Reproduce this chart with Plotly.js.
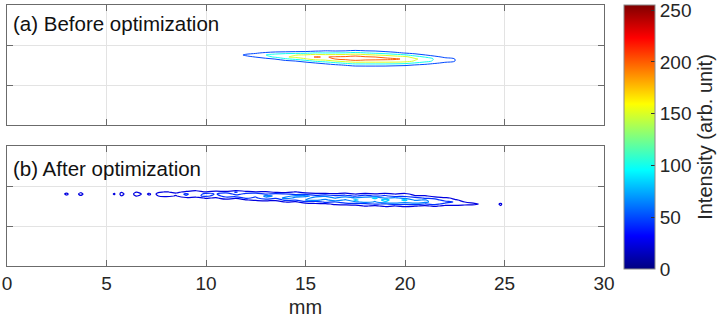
<!DOCTYPE html>
<html>
<head>
<meta charset="utf-8">
<script src="https://cdn.plot.ly/plotly-3.0.1.min.js"></script>
<style>
  html, body { margin: 0; padding: 0; background: #ffffff; }
  #chart { width: 720px; height: 320px; }
</style>
</head>
<body>
<div id="chart"></div>
<script>
// Longitudinal positions (mm) of the sampled columns, transverse rows, and intensity per column.
// Panel (a): beam before optimization
const beforeX = [11.0, 11.5, 12.0, 12.5, 13.0, 13.5, 14.0, 14.5, 15.0, 15.5, 16.0, 16.5, 17.0,
                 17.5, 18.0, 18.5, 19.0, 19.5, 20.0, 20.5, 21.0, 21.5, 22.0, 22.5, 23.0];
const beforeY = [1.45, 1.50, 1.55, 1.60, 1.65, 1.70, 1.75, 1.80, 1.85, 1.90, 1.95];
const beforeZ = [
  [0, 0, 0, 0, 0, 0, 0, 0, 0, 0, 0],
  [0, 0, 0, 0, 0, 10, 30, 12, 0, 0, 0],
  [0, 0, 0, 1, 8, 35, 58, 35, 8, 1, 0],
  [0, 0, 0, 2, 16, 52, 72, 44, 12, 1, 0],
  [0, 0, 0, 7, 32, 80, 99, 61, 19, 3, 0],
  [0, 0, 2, 14, 53, 108, 122, 76, 26, 5, 0],
  [0, 1, 8, 35, 91, 144, 137, 84, 27, 6, 0],
  [0, 3, 15, 51, 113, 162, 148, 87, 33, 8, 1],
  [1, 7, 28, 77, 144, 182, 155, 90, 35, 9, 2],
  [4, 16, 50, 110, 175, 203, 170, 104, 46, 14, 3],
  [8, 27, 67, 126, 181, 197, 162, 101, 53, 17, 5],
  [15, 42, 90, 152, 201, 206, 164, 102, 50, 19, 5],
  [20, 55, 110, 172, 214, 209, 165, 104, 52, 21, 6],
  [31, 70, 127, 188, 226, 222, 177, 115, 60, 26, 9],
  [32, 71, 126, 183, 216, 207, 162, 103, 53, 22, 8],
  [32, 71, 127, 183, 213, 200, 151, 92, 50, 18, 6],
  [31, 71, 127, 183, 210, 192, 139, 81, 37, 14, 4],
  [27, 66, 125, 183, 206, 178, 121, 64, 27, 9, 2],
  [24, 61, 118, 174, 194, 165, 106, 47, 19, 5, 1],
  [17, 48, 97, 145, 159, 128, 76, 33, 11, 2, 0],
  [12, 37, 79, 119, 128, 97, 52, 20, 5, 1, 0],
  [7, 24, 58, 91, 95, 65, 30, 9, 2, 0, 0],
  [3, 15, 41, 68, 68, 41, 15, 3, 0, 0, 0],
  [0, 4, 22, 52, 50, 24, 5, 1, 0, 0, 0],
  [0, 0, 0, 0, 0, 0, 0, 0, 0, 0, 0]
];
const beforeLevels = { start: 50, end: 250, size: 50 };

// Panel (b): beam after optimization
const afterX = [2.5, 3.0, 3.35, 3.7, 4.1, 5.0, 5.4, 5.55, 5.75, 5.95, 6.15, 6.5, 6.9, 7.15, 7.35, 7.6,
                8.0, 8.5, 9.0, 9.5, 10.0, 10.5, 11.0, 11.5, 12.0, 12.5, 13.0, 13.5, 14.0, 14.5,
                15.0, 15.5, 16.0, 16.5, 17.0, 17.5, 18.0, 18.5, 19.0, 19.5, 20.0, 20.5, 21.0,
                21.5, 22.0, 22.5, 23.0, 23.5, 24.0, 24.5, 24.8, 25.1];
const afterY = [1.40, 1.45, 1.50, 1.55, 1.60, 1.65, 1.70, 1.75, 1.80, 1.85, 1.90, 1.95];
const afterZ = [
  [0, 0, 0, 0, 0, 0, 0, 0, 0, 0, 0, 0],
  [0, 0, 0, 0, 0, 0, 0, 18, 30, 16, 0, 0],
  [0, 0, 0, 0, 0, 0, 0, 0, 0, 0, 0, 0],
  [0, 0, 0, 0, 0, 0, 0, 20, 34, 18, 0, 0],
  [0, 0, 0, 0, 0, 0, 0, 0, 0, 0, 0, 0],
  [0, 0, 0, 0, 0, 0, 0, 0, 0, 0, 0, 0],
  [0, 0, 0, 0, 0, 0, 0, 16, 28, 14, 0, 0],
  [0, 0, 0, 0, 0, 0, 0, 0, 0, 0, 0, 0],
  [0, 0, 0, 0, 0, 0, 0, 22, 38, 20, 0, 0],
  [0, 0, 0, 0, 0, 0, 0, 10, 16, 8, 0, 0],
  [0, 0, 0, 0, 0, 0, 0, 0, 0, 0, 0, 0],
  [0, 0, 0, 0, 0, 0, 4, 26, 40, 22, 2, 0],
  [0, 0, 0, 0, 0, 0, 2, 10, 14, 8, 1, 0],
  [0, 0, 0, 0, 0, 0, 3, 18, 30, 14, 1, 0],
  [0, 0, 0, 0, 0, 0, 2, 8, 12, 6, 0, 0],
  [0, 0, 0, 0, 0, 0, 5, 24, 34, 20, 3, 0],
  [0, 0, 0, 0, 0, 2, 10, 30, 41, 26, 4, 0],
  [0, 0, 0, 0, 0, 1, 6, 22, 30, 18, 3, 0],
  [0, 0, 0, 0, 0, 3, 18, 42, 48, 30, 8, 1],
  [0, 0, 0, 0, 0, 2, 12, 40, 30, 44, 12, 1],
  [0, 0, 0, 0, 1, 8, 28, 48, 52, 26, 6, 1],
  [0, 0, 0, 0, 1, 5, 20, 38, 42, 36, 10, 2],
  [0, 0, 0, 0, 2, 14, 38, 50, 60, 30, 8, 2],
  [0, 0, 0, 0, 3, 10, 28, 54, 36, 46, 14, 2],
  [0, 0, 0, 1, 6, 22, 48, 64, 50, 32, 9, 1],
  [0, 0, 0, 1, 5, 30, 40, 48, 60, 26, 6, 1],
  [0, 0, 0, 2, 12, 34, 60, 68, 42, 28, 7, 1],
  [0, 0, 1, 4, 10, 30, 48, 62, 50, 20, 5, 0],
  [0, 0, 1, 7, 24, 50, 72, 54, 44, 16, 4, 0],
  [0, 0, 2, 10, 20, 46, 60, 70, 34, 26, 4, 0],
  [0, 1, 5, 14, 36, 64, 50, 72, 38, 12, 2, 0],
  [0, 1, 4, 22, 30, 70, 78, 52, 28, 16, 2, 0],
  [0, 2, 9, 18, 50, 58, 80, 60, 32, 9, 1, 0],
  [0, 2, 12, 30, 44, 80, 62, 48, 26, 12, 1, 0],
  [1, 4, 18, 28, 62, 60, 84, 50, 34, 8, 1, 0],
  [1, 6, 14, 38, 58, 88, 66, 42, 24, 10, 1, 0],
  [1, 6, 26, 36, 72, 74, 70, 56, 30, 7, 1, 0],
  [1, 8, 20, 46, 62, 70, 90, 40, 26, 9, 1, 0],
  [1, 6, 30, 42, 80, 92, 62, 48, 32, 8, 0, 0],
  [2, 9, 24, 54, 76, 72, 68, 36, 24, 10, 0, 0],
  [2, 10, 30, 48, 72, 90, 56, 40, 30, 6, 0, 0],
  [1, 7, 26, 54, 80, 60, 54, 26, 16, 3, 0, 0],
  [1, 8, 20, 44, 70, 66, 40, 28, 8, 1, 0, 0],
  [1, 5, 28, 50, 54, 52, 38, 14, 5, 1, 0, 0],
  [1, 6, 18, 38, 52, 36, 28, 10, 3, 0, 0, 0],
  [1, 4, 22, 28, 42, 26, 20, 5, 1, 0, 0, 0],
  [0, 4, 14, 34, 24, 20, 8, 2, 0, 0, 0, 0],
  [0, 3, 10, 30, 12, 10, 2, 0, 0, 0, 0, 0],
  [0, 1, 6, 14, 8, 2, 0, 0, 0, 0, 0, 0],
  [0, 0, 2, 5, 2, 0, 0, 0, 0, 0, 0, 0],
  [0, 0, 22, 30, 12, 0, 0, 0, 0, 0, 0, 0],
  [0, 0, 0, 0, 0, 0, 0, 0, 0, 0, 0, 0]
];
const afterLevels = { start: 24, end: 84, size: 20 };

const xTicks = [0, 5, 10, 15, 20, 25, 30];
const cbarTicks = [0, 50, 100, 150, 200, 250];
const cRange = [0, 255];
const panelLabels = ['(a) Before optimization', '(b) After optimization'];

// MATLAB-style jet colormap
function clamp01(v) { return Math.max(0, Math.min(1, v)); }
function jetColor(t) {
  const r = clamp01(1.5 - Math.abs(4 * t - 3));
  const g = clamp01(1.5 - Math.abs(4 * t - 2));
  const b = clamp01(1.5 - Math.abs(4 * t - 1));
  return 'rgb(' + Math.round(r * 255) + ',' + Math.round(g * 255) + ',' + Math.round(b * 255) + ')';
}
const jetScale = [0, 0.125, 0.375, 0.625, 0.875, 1].map(p => [p, jetColor(p)]);

// contour lines are coloured over [start, end]; give each level its jet colour on the shared 0-255 scale
function levelScale(lv) {
  const out = [];
  const n = Math.round((lv.end - lv.start) / lv.size);
  for (let i = 0; i <= n; i++) {
    const v = lv.start + i * lv.size;
    out.push([i / n, jetColor((v - cRange[0]) / (cRange[1] - cRange[0]))]);
  }
  return out;
}

const W = 720, H = 320;
const FONT = 'Liberation Sans, Arial, Helvetica, sans-serif';
const TXT = '#262626';
const AX = '#6b6b6b';
const GRID = '#e3e3e3';

const traces = [
  {
    type: 'contour', x: beforeX, y: beforeY, z: beforeZ, transpose: true,
    xaxis: 'x2', yaxis: 'y2', showscale: false,
    colorscale: levelScale(beforeLevels),
    autocontour: false,
    contours: Object.assign({ coloring: 'lines' }, beforeLevels),
    line: { width: 1, smoothing: 1 },
    hoverinfo: 'skip'
  },
  {
    type: 'contour', x: afterX, y: afterY, z: afterZ, transpose: true,
    xaxis: 'x', yaxis: 'y', showscale: false,
    colorscale: levelScale(afterLevels),
    autocontour: false,
    contours: Object.assign({ coloring: 'lines' }, afterLevels),
    line: { width: 1.25, smoothing: 1 },
    hoverinfo: 'skip'
  },
  // carrier for the shared intensity colour bar
  {
    type: 'scatter', mode: 'markers', x: [null], y: [null], xaxis: 'x', yaxis: 'y',
    marker: { color: [0], coloraxis: 'coloraxis' }, hoverinfo: 'skip'
  }
];

const xdom = [7 / W, 604 / W];
const baseX = {
  domain: xdom, range: [0, 30], tickvals: xTicks, ticks: 'inside', ticklen: 6,
  tickcolor: AX, tickwidth: 1, showline: true, linecolor: AX, linewidth: 1, mirror: 'ticks',
  showgrid: true, gridcolor: GRID, gridwidth: 1, zeroline: false, automargin: false,
  tickfont: { family: FONT, size: 19, color: TXT }
};
const baseY = {
  range: [0, 3], tickvals: [1, 2], showticklabels: false, ticks: 'inside', ticklen: 6,
  tickcolor: AX, tickwidth: 1, showline: true, linecolor: AX, linewidth: 1, mirror: 'ticks',
  showgrid: true, gridcolor: GRID, gridwidth: 1, zeroline: false, automargin: false
};

const layout = {
  width: W, height: H,
  margin: { l: 0, r: 0, t: 0, b: 0 },
  paper_bgcolor: '#ffffff', plot_bgcolor: '#ffffff',
  showlegend: false,
  font: { family: FONT, color: TXT },
  xaxis: Object.assign({}, baseX, {
    anchor: 'y', showticklabels: true,
    title: { text: 'mm', font: { family: FONT, size: 20, color: TXT }, standoff: 7 }
  }),
  yaxis: Object.assign({}, baseY, { anchor: 'x', domain: [(H - 266) / H, (H - 146) / H] }),
  xaxis2: Object.assign({}, baseX, { anchor: 'y2', matches: 'x', showticklabels: false }),
  yaxis2: Object.assign({}, baseY, { anchor: 'x2', domain: [(H - 125) / H, (H - 5) / H] }),
  coloraxis: {
    cmin: cRange[0], cmax: cRange[1], colorscale: jetScale,
    colorbar: {
      x: 624 / W, xanchor: 'left', y: (H - 269) / H, yanchor: 'bottom',
      len: 264, lenmode: 'pixels', thickness: 31, thicknessmode: 'pixels',
      xpad: 0, ypad: 0, outlinewidth: 1, outlinecolor: '#8a8a8a',
      tickvals: cbarTicks, ticks: 'inside', ticklen: 4, tickcolor: '#333333',
      ticklabeloverflow: 'allow',
      tickfont: { family: FONT, size: 19, color: TXT },
      title: { text: 'Intensity (arb. unit)', side: 'right', font: { family: FONT, size: 20, color: TXT } }
    }
  },
  annotations: [
    { text: panelLabels[0], xref: 'paper', yref: 'paper', x: 11 / W, y: (H - 23) / H,
      xanchor: 'left', yanchor: 'middle', showarrow: false,
      font: { family: FONT, size: 20.5, color: '#111111' } },
    { text: panelLabels[1], xref: 'paper', yref: 'paper', x: 11 / W, y: (H - 168) / H,
      xanchor: 'left', yanchor: 'middle', showarrow: false,
      font: { family: FONT, size: 20.5, color: '#111111' } }
  ]
};

Plotly.newPlot('chart', traces, layout, { displayModeBar: false, staticPlot: true });
</script>
</body>
</html>
